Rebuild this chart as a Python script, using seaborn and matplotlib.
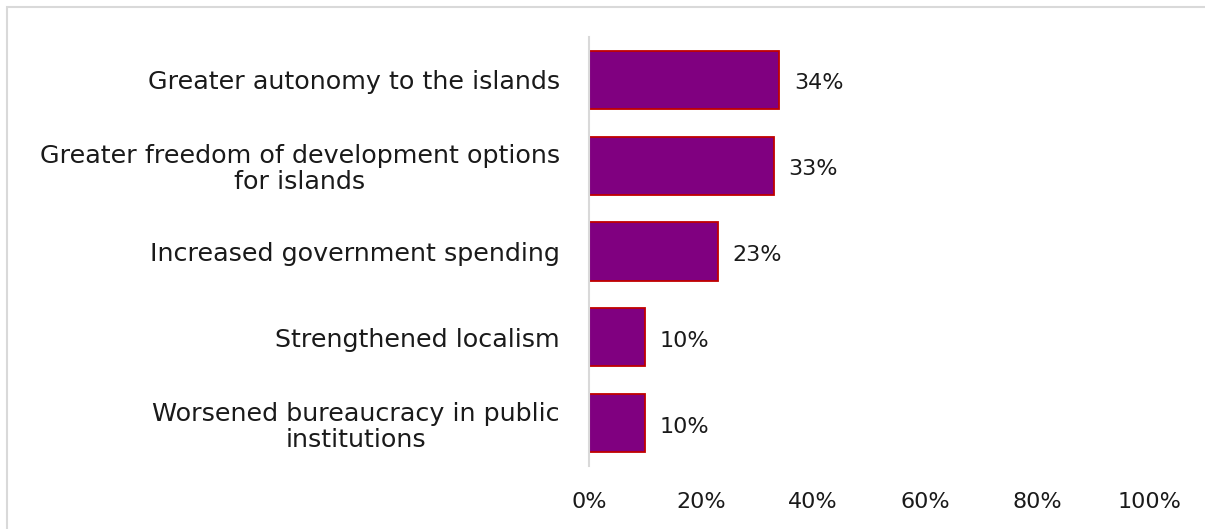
import matplotlib
matplotlib.use("Agg")
import matplotlib.pyplot as plt
from matplotlib.patches import Rectangle
import seaborn as sns
import pandas as pd

# Survey responses: share of respondents per expected effect
categories = [
    "Greater autonomy to the islands",
    "Greater freedom of development options\nfor islands",
    "Increased government spending",
    "Strengthened localism",
    "Worsened bureaucracy in public\ninstitutions",
]
values = [34, 33, 23, 10, 10]
tick_values = [0, 20, 40, 60, 80, 100]
tick_labels = [f"{t}%" for t in tick_values]

df = pd.DataFrame({"effect": categories, "share": [v / 100 for v in values]})

sns.set_theme(style="white")
plt.rcParams["font.family"] = ["DejaVu Sans"]

W, H, DPI = 1205, 529, 100
fig = plt.figure(figsize=(W / DPI, H / DPI), dpi=DPI)
fig.patch.set_facecolor("white")

ax = fig.add_axes([589 / W, 1 - 466 / H, (1149 - 589) / W, (466 - 37) / H])

sns.barplot(
    data=df, x="share", y="effect", ax=ax,
    color="#800080", edgecolor="#C00000", linewidth=1.3,
    width=0.68, saturation=1,
)

ax.set_xlim(0, 1)
ax.set_xticks([t / 100 for t in tick_values])
ax.set_xticklabels(tick_labels, fontsize=16, color="#1a1a1a")
ax.set_xlabel("")
ax.set_ylabel("")
ax.tick_params(axis="x", length=0, pad=19)
ax.tick_params(axis="y", length=0, pad=21, labelsize=18.3, labelcolor="#1a1a1a")
for lbl in ax.get_yticklabels():
    lbl.set_multialignment("center")
    lbl.set_linespacing(1.12)

for side in ["top", "right", "bottom"]:
    ax.spines[side].set_visible(False)
ax.spines["left"].set_color("#D9D9D9")
ax.spines["left"].set_linewidth(1.5)

# value labels at the end of each bar
for i, v in enumerate(values):
    ax.text(v / 100 + 0.026, i + 0.04, f"{v}%", va="center", ha="left",
            fontsize=16, color="#1a1a1a")

# light chart-area frame
fig.patches.append(Rectangle((7 / W, -0.1), 1.2, 1 - 7 / H + 0.1,
                             transform=fig.transFigure, fill=False,
                             edgecolor="#D9D9D9", linewidth=1.5))

fig.savefig("out.png", dpi=DPI)
